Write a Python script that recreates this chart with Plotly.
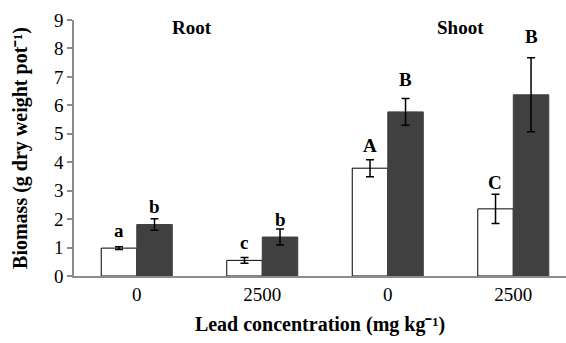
import plotly.graph_objects as go

tick_labels = ["0", "2500", "0", "2500"]
positions = [0, 1, 2, 3]
control_vals = [0.98, 0.55, 3.79, 2.36]
control_err = [0.05, 0.1, 0.3, 0.51]
treated_vals = [1.81, 1.37, 5.77, 6.37]
treated_err = [0.2, 0.28, 0.47, 1.3]
control_letters = ["a", "c", "A", "C"]
treated_letters = ["b", "b", "B", "B"]
group_labels = ["Root", "Shoot"]
group_pos = [0.44, 2.58]

# pixel offsets of the significance letters above the error bar tops (style)
control_letter_shift = [4, 3, 2, -1]
treated_letter_shift = [0, -3, 7, 9]

FONT = "Liberation Serif, Times New Roman, serif"

fig = go.Figure()
fig.add_trace(go.Bar(
    x=positions, y=control_vals,
    marker=dict(color="white", line=dict(color="black", width=1)),
    error_y=dict(type="data", array=control_err, color="black", thickness=1.5, width=4),
    showlegend=False, hoverinfo="skip",
))
fig.add_trace(go.Bar(
    x=positions, y=treated_vals,
    marker=dict(color="#404040", line=dict(color="#404040", width=1)),
    error_y=dict(type="data", array=treated_err, color="black", thickness=1.5, width=4),
    showlegend=False, hoverinfo="skip",
))

off = 0.142
for i, p in enumerate(positions):
    fig.add_annotation(x=p - off, y=control_vals[i] + control_err[i], text="<b>%s</b>" % control_letters[i],
                       showarrow=False, yanchor="bottom", yshift=control_letter_shift[i],
                       font=dict(family=FONT, size=19, color="black"))
    fig.add_annotation(x=p + off, y=treated_vals[i] + treated_err[i], text="<b>%s</b>" % treated_letters[i],
                       showarrow=False, yanchor="bottom", yshift=treated_letter_shift[i],
                       font=dict(family=FONT, size=19, color="black"))

for lbl, gp in zip(group_labels, group_pos):
    fig.add_annotation(x=gp, y=8.72, text="<b>%s</b>" % lbl, showarrow=False,
                       font=dict(family=FONT, size=19, color="black"))

fig.update_layout(
    width=566, height=343,
    margin=dict(l=74, r=0, t=20, b=67),
    paper_bgcolor="white", plot_bgcolor="white",
    barmode="group", bargap=0.434, bargroupgap=0,
    font=dict(family=FONT, color="black"),
    xaxis=dict(
        tickmode="array", tickvals=positions, ticktext=tick_labels,
        range=[-0.5, 3.42], showline=True, linecolor="#8c8c8c", linewidth=1.5,
        ticks="", tickfont=dict(family=FONT, size=19, color="black"),
        showgrid=False, zeroline=False, automargin=False,
        title=dict(text="<b>Lead concentration (mg kg⁻¹)</b>", font=dict(family=FONT, size=20), standoff=13),
    ),
    yaxis=dict(
        range=[0, 9], dtick=1, showline=True, linecolor="#8c8c8c", linewidth=1.5,
        ticks="outside", ticklen=5, tickcolor="#8c8c8c", tickwidth=1.5,
        tickfont=dict(family=FONT, size=19, color="black"),
        showgrid=False, zeroline=False, automargin=False,
        title=dict(text="<b>Biomass (g dry weight pot⁻¹)</b>", font=dict(family=FONT, size=20), standoff=21),
    ),
)

fig.write_html("out.html", config={"displayModeBar": False},
               post_script="document.body.style.margin='0';")
